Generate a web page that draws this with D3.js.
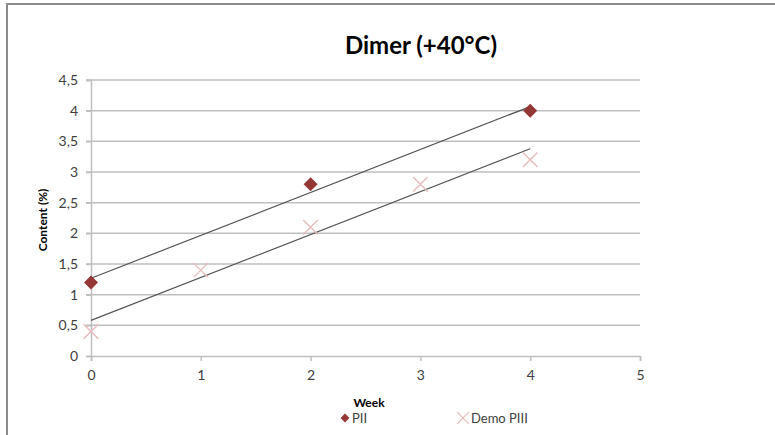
<!DOCTYPE html>
<html>
<head>
<meta charset="utf-8">
<script src="https://cdn.jsdelivr.net/npm/d3@7"></script>
<style>
  html, body { margin: 0; padding: 0; background: #fff; }
  svg { display: block; font-family: Lato, "Open Sans", sans-serif; }
</style>
</head>
<body>
<svg id="chart" width="775" height="435"></svg>
<script>
// data
var weeksPII = [0, 2, 4];
var valuesPII = [1.2, 2.8, 4.0];
var weeksPIII = [0, 1, 2, 3, 4];
var valuesPIII = [0.4, 1.4, 2.1, 2.8, 3.2];
var xTicks = [0, 1, 2, 3, 4, 5];
var yTicks = [0, 0.5, 1, 1.5, 2, 2.5, 3, 3.5, 4, 4.5];
var seriesNames = ["PII", "Demo PIII"];

var svg = d3.select("#chart"),
	plotLeft = 91, plotRight = 640, plotTop = 80, plotBottom = 356;

var x = d3.scaleLinear().domain([0, 5]).range([plotLeft, plotRight]);
var y = d3.scaleLinear().domain([0, 4.5]).range([plotBottom, plotTop]);
var fmt = function (d) { return String(d).replace(".", ","); };

// outer frame (only top and left edges show)
svg.append("line").attr("x1", 6).attr("x2", 775).attr("y1", 4).attr("y2", 4)
	.attr("stroke", "#8c8c8c").attr("stroke-width", 2);
svg.append("line").attr("x1", 7).attr("x2", 7).attr("y1", 4).attr("y2", 435)
	.attr("stroke", "#8c8c8c").attr("stroke-width", 2);

// title
svg.append("text").attr("x", 421).attr("y", 54).attr("text-anchor", "middle")
	.attr("font-size", 24).attr("font-weight", "bold").attr("fill", "#000")
	.text("Dimer (+40°C)");

// gridlines
svg.append("g").selectAll("line").data(yTicks.filter(function (d) { return d > 0; }))
	.enter().append("line")
	.attr("x1", plotLeft - 5).attr("x2", plotRight)
	.attr("y1", function (d) { return y(d); }).attr("y2", function (d) { return y(d); })
	.attr("stroke", "#bfbfbf").attr("stroke-width", 1.5);

// y axis
var yAxis = svg.append("g").attr("transform", "translate(" + plotLeft + ",0)")
	.call(d3.axisLeft(y).tickValues(yTicks).tickFormat(fmt).tickSize(5).tickPadding(8));
yAxis.select(".domain").attr("stroke", "#bfbfbf").attr("stroke-width", 1.5);
yAxis.selectAll(".tick line").attr("stroke", "#bfbfbf").attr("stroke-width", 1.5);
yAxis.selectAll("text").attr("font-size", 14).attr("fill", "#404040").attr("font-family", "Lato, sans-serif");

// x axis
var xAxis = svg.append("g").attr("transform", "translate(0," + plotBottom + ")")
	.call(d3.axisBottom(x).tickValues(xTicks).tickFormat(fmt).tickSize(5).tickPadding(9));
xAxis.select(".domain").attr("stroke", "#bfbfbf").attr("stroke-width", 1.5);
xAxis.selectAll(".tick line").attr("stroke", "#bfbfbf").attr("stroke-width", 1.5);
xAxis.selectAll("text").attr("font-size", 14).attr("fill", "#404040").attr("font-family", "Lato, sans-serif");

// axis titles
svg.append("text").attr("transform", "translate(47,220) rotate(-90)")
	.attr("text-anchor", "middle").attr("font-size", 12).attr("font-weight", "bold")
	.text("Content (%)");
svg.append("text").attr("x", 369).attr("y", 407).attr("text-anchor", "middle")
	.attr("font-size", 12).attr("font-weight", "bold").text("Week");

// least squares trend line over a series
function trend(xs, ys) {
	var mx = d3.mean(xs), my = d3.mean(ys);
	var sxy = d3.sum(xs, function (v, i) { return (v - mx) * (ys[i] - my); });
	var sxx = d3.sum(xs, function (v) { return (v - mx) * (v - mx); });
	var slope = sxy / sxx, icpt = my - slope * mx;
	var x0 = d3.min(xs), x1 = d3.max(xs);
	return [[x0, icpt + slope * x0], [x1, icpt + slope * x1]];
}

var line = d3.line().x(function (d) { return x(d[0]); }).y(function (d) { return y(d[1]); });
[[weeksPII, valuesPII], [weeksPIII, valuesPIII]].forEach(function (s) {
	svg.append("path").attr("d", line(trend(s[0], s[1])))
		.attr("fill", "none").attr("stroke", "#555").attr("stroke-width", 1.2);
});

// markers
var diamond = d3.symbol().type(d3.symbolDiamond2).size(125);
var cross = d3.symbol().type(d3.symbolX).size(140);

svg.append("g").selectAll("path").data(weeksPII).enter().append("path")
	.attr("d", diamond)
	.attr("transform", function (d, i) { return "translate(" + x(d) + "," + y(valuesPII[i]) + ")"; })
	.attr("fill", "#953735");

svg.append("g").selectAll("path").data(weeksPIII).enter().append("path")
	.attr("d", cross)
	.attr("transform", function (d, i) { return "translate(" + x(d) + "," + y(valuesPIII[i]) + ")"; })
	.attr("fill", "none").attr("stroke", "#e6b9b8").attr("stroke-width", 1.3);

// legend
var legend = svg.append("g").attr("font-size", 13).attr("fill", "#404040");
legend.append("path").attr("d", d3.symbol().type(d3.symbolDiamond2).size(50))
	.attr("transform", "translate(345,418)").attr("fill", "#953735");
legend.append("text").attr("x", 352).attr("y", 423).attr("fill", "#404040").text(seriesNames[0]);
legend.append("path").attr("d", d3.symbol().type(d3.symbolX).size(90))
	.attr("transform", "translate(463,418)").attr("fill", "none")
	.attr("stroke", "#e6b9b8").attr("stroke-width", 1.2);
legend.append("text").attr("x", 471).attr("y", 423).attr("fill", "#404040").text(seriesNames[1]);
</script>
</body>
</html>
